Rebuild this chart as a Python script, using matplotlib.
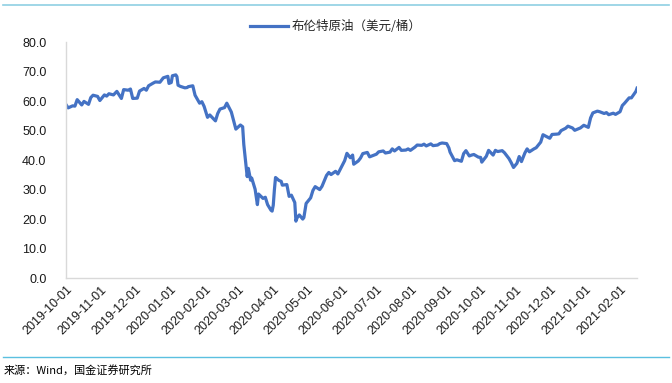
import numpy as np
import pandas as pd
import matplotlib
matplotlib.use("Agg")
import matplotlib.pyplot as plt
import matplotlib.dates as mdates
from matplotlib.lines import Line2D

plt.rcParams['font.family'] = ['Liberation Sans', 'Noto Sans CJK SC', 'DejaVu Sans']

# 布伦特原油（美元/桶），按图读取的近似值
dates = [
    "2019-10-01", "2019-10-03", "2019-10-07", "2019-10-09", "2019-10-11", "2019-10-15",
    "2019-10-17", "2019-10-21", "2019-10-23", "2019-10-25", "2019-10-29", "2019-10-31",
    "2019-11-04", "2019-11-06", "2019-11-08", "2019-11-12", "2019-11-15", "2019-11-19",
    "2019-11-21", "2019-11-25", "2019-11-27", "2019-11-29", "2019-12-03", "2019-12-05",
    "2019-12-09", "2019-12-11", "2019-12-13", "2019-12-17", "2019-12-19", "2019-12-23",
    "2019-12-26", "2019-12-30", "2019-12-31", "2020-01-02", "2020-01-03", "2020-01-06",
    "2020-01-07", "2020-01-08", "2020-01-10", "2020-01-14", "2020-01-16", "2020-01-17",
    "2020-01-21", "2020-01-23", "2020-01-27", "2020-01-29", "2020-01-31", "2020-02-03",
    "2020-02-05", "2020-02-07", "2020-02-10", "2020-02-12", "2020-02-14", "2020-02-18",
    "2020-02-20", "2020-02-24", "2020-02-26", "2020-02-28", "2020-03-03", "2020-03-05",
    "2020-03-06", "2020-03-09", "2020-03-10", "2020-03-12", "2020-03-13", "2020-03-16",
    "2020-03-18", "2020-03-19", "2020-03-23", "2020-03-25", "2020-03-27", "2020-03-30",
    "2020-03-31", "2020-04-01", "2020-04-02", "2020-04-03", "2020-04-06", "2020-04-08",
    "2020-04-09", "2020-04-13", "2020-04-14", "2020-04-15", "2020-04-17", "2020-04-20",
    "2020-04-21", "2020-04-22", "2020-04-24", "2020-04-27", "2020-04-28", "2020-04-30",
    "2020-05-04", "2020-05-06", "2020-05-08", "2020-05-12", "2020-05-14", "2020-05-18",
    "2020-05-20", "2020-05-22", "2020-05-26", "2020-05-28", "2020-06-01", "2020-06-03",
    "2020-06-05", "2020-06-08", "2020-06-10", "2020-06-11", "2020-06-15", "2020-06-17",
    "2020-06-19", "2020-06-23", "2020-06-25", "2020-06-29", "2020-07-01", "2020-07-03",
    "2020-07-07", "2020-07-09", "2020-07-13", "2020-07-15", "2020-07-17", "2020-07-21",
    "2020-07-23", "2020-07-27", "2020-07-29", "2020-07-31", "2020-08-04", "2020-08-06",
    "2020-08-10", "2020-08-12", "2020-08-14", "2020-08-18", "2020-08-20", "2020-08-24",
    "2020-08-26", "2020-08-28", "2020-09-01", "2020-09-03", "2020-09-04", "2020-09-08",
    "2020-09-10", "2020-09-14", "2020-09-16", "2020-09-18", "2020-09-21", "2020-09-23",
    "2020-09-25", "2020-09-29", "2020-10-01", "2020-10-02", "2020-10-06", "2020-10-08",
    "2020-10-12", "2020-10-14", "2020-10-16", "2020-10-20", "2020-10-22", "2020-10-26",
    "2020-10-28", "2020-10-30", "2020-11-02", "2020-11-04", "2020-11-06", "2020-11-09",
    "2020-11-11", "2020-11-13", "2020-11-17", "2020-11-19", "2020-11-23", "2020-11-25",
    "2020-11-27", "2020-12-01", "2020-12-03", "2020-12-07", "2020-12-09", "2020-12-11",
    "2020-12-15", "2020-12-17", "2020-12-21", "2020-12-23", "2020-12-28", "2020-12-31",
    "2021-01-04", "2021-01-06", "2021-01-08", "2021-01-12", "2021-01-14", "2021-01-18",
    "2021-01-20", "2021-01-22", "2021-01-26", "2021-01-28", "2021-02-01", "2021-02-03",
    "2021-02-05", "2021-02-09", "2021-02-11", "2021-02-15", "2021-02-16",
]
brent = [
    58.9, 57.7, 58.4, 58.3, 60.5, 58.7,
    59.9, 58.9, 61.2, 62.0, 61.6, 60.2,
    62.1, 61.7, 62.5, 62.1, 63.3, 60.9,
    63.9, 63.7, 64.1, 60.9, 61.0, 63.4,
    64.3, 63.7, 65.2, 66.1, 66.5, 66.4,
    67.9, 68.4, 66.0, 66.3, 68.6, 68.9,
    68.3, 65.4, 65.0, 64.5, 64.6, 64.9,
    65.2, 62.0, 59.3, 59.8, 58.2, 54.5,
    55.3, 54.5, 53.3, 55.8, 57.3, 57.8,
    59.3, 56.3, 53.4, 50.5, 51.9, 51.3,
    45.3, 34.4, 37.2, 33.2, 33.9, 30.1,
    24.9, 28.5, 27.0, 27.4, 24.9, 23.0,
    22.7, 24.7, 29.9, 34.1, 33.1, 32.8,
    31.5, 31.7, 29.6, 27.7, 28.1, 25.6,
    19.3, 20.4, 21.4, 20.0, 20.5, 25.3,
    27.2, 29.7, 31.0, 30.0, 31.1, 34.8,
    35.8, 35.1, 36.2, 35.3, 38.3, 39.8,
    42.3, 40.8, 41.7, 38.6, 39.7, 40.7,
    42.2, 42.6, 41.1, 41.7, 42.0, 42.8,
    43.1, 42.4, 42.7, 43.8, 43.1, 44.3,
    43.3, 43.4, 43.8, 43.3, 44.4, 45.1,
    45.0, 45.4, 44.8, 45.5, 44.9, 45.1,
    45.6, 45.8, 45.6, 44.1, 42.7, 39.8,
    40.1, 39.6, 42.2, 43.2, 41.4, 41.7,
    41.9, 41.0, 40.9, 39.3, 41.3, 43.3,
    41.7, 43.3, 42.9, 43.2, 42.5, 40.5,
    39.1, 37.5, 38.9, 41.2, 39.5, 42.4,
    43.8, 42.8, 43.8, 44.2, 46.1, 48.6,
    48.2, 47.4, 48.7, 48.8, 48.9, 50.0,
    50.8, 51.5, 50.9, 50.1, 50.9, 51.8,
    51.1, 54.3, 56.0, 56.6, 56.4, 55.8,
    56.1, 55.4, 55.9, 55.5, 56.4, 58.5,
    59.3, 61.1, 61.1, 63.3, 64.4,
]
tick_dates = pd.date_range("2019-10-01", "2021-02-01", freq="MS")

fig = plt.figure(figsize=(6.72, 3.83), dpi=100)
ax = fig.add_axes([0.098, 0.274, 0.850, 0.616])

x = pd.to_datetime(dates)
ax.plot(x, brent, color="#4472C4", lw=2.3, solid_joinstyle="round")

ax.set_xlim(pd.Timestamp("2019-10-01"), pd.Timestamp("2021-02-16"))
ax.set_ylim(0, 80)
ax.set_yticks(np.arange(0, 81, 10))
ax.yaxis.set_major_formatter(matplotlib.ticker.FormatStrFormatter("%.1f"))
ax.set_xticks(tick_dates)
ax.xaxis.set_major_formatter(mdates.DateFormatter("%Y-%m-%d"))
plt.setp(ax.get_xticklabels(), rotation=45, ha="right", rotation_mode="anchor")

for s in ["top", "right"]:
    ax.spines[s].set_visible(False)
for s in ["left", "bottom"]:
    ax.spines[s].set_color("#D9D9D9")
    ax.spines[s].set_linewidth(1.0)
ax.tick_params(axis="y", length=0, pad=14, labelsize=9, colors="#1a1a1a")
ax.tick_params(axis="x", length=0, pad=4, labelsize=9, colors="#1a1a1a")

# legend at top
leg = fig.legend([Line2D([], [], color="#4472C4", lw=2.3)], ["布伦特原油（美元/桶）"],
                 loc="center", bbox_to_anchor=(0.5, 0.93), frameon=False,
                 prop={"family": ["Noto Sans CJK SC"], "size": 9},
                 handlelength=3.0, handletextpad=0.3)
for t in leg.get_texts():
    t.set_color("#262626")

# frame lines and source
fig.add_artist(Line2D([0.005, 0.995], [0.988, 0.988], color="#8FCFE3", lw=1.2))
fig.add_artist(Line2D([0.005, 0.995], [0.068, 0.068], color="#5BC0E0", lw=1.0))
fig.text(0.005, 0.034, "来源：Wind，国金证券研究所", fontsize=8, va="center",
         family=["Noto Sans CJK SC", "Liberation Sans"])

plt.savefig("out.png", dpi=100)
